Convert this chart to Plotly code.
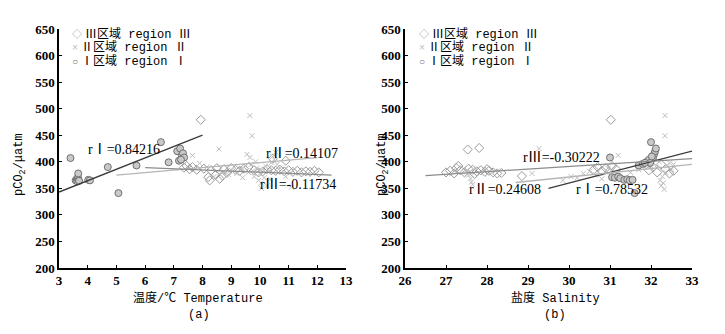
import plotly.graph_objects as go

# ---------------- data ----------------
# (a) temperature panel
temp_I = [3.40, 3.58, 3.62, 3.64, 3.66, 3.68, 3.70, 3.67, 4.02, 4.08, 4.70, 5.07, 5.70,
          6.55, 6.82, 7.12, 7.18, 7.22, 7.28, 7.32, 7.36, 7.25]
pco2_temp_I = [407, 365, 368, 363, 370, 366, 364, 378, 366, 365, 390, 341, 393,
               437, 399, 420, 402, 425, 412, 416, 408, 404]

temp_II = [7.65, 7.90, 8.15, 8.57, 8.70, 9.00, 9.20, 9.35, 9.50, 9.55, 9.60, 9.65, 9.65,
           9.70, 9.73, 9.80, 9.85, 9.90, 9.95, 10.00, 10.05, 10.10, 10.15, 10.20, 10.25,
           10.30, 10.40, 10.45, 10.50, 10.55, 10.60, 10.70, 10.90, 11.10, 8.40, 8.90,
           9.40, 9.75, 10.35, 10.05]
pco2_temp_II = [412, 397, 390, 424, 380, 384, 378, 386, 392, 414, 380, 408, 487,
                395, 449, 372, 400, 388, 365, 378, 360, 382, 370, 392, 355,
                385, 398, 410, 404, 418, 395, 388, 372, 352, 372, 376,
                370, 383, 367, 350]

temp_III = [7.35, 7.45, 7.55, 7.65, 7.80, 7.94, 8.05, 8.20, 8.30, 8.45, 8.60, 8.75, 8.85,
            9.00, 9.15, 9.30, 9.45, 9.60, 9.80, 9.95, 10.10, 10.25, 10.40, 10.55, 10.70,
            10.85, 11.00, 11.15, 11.30, 11.45, 11.60, 11.75, 11.90, 12.05, 8.25, 8.50,
            8.70, 10.45, 10.90]
pco2_temp_III = [389, 392, 386, 390, 385, 479, 387, 371, 384, 375, 368, 386, 379,
                 388, 385, 383, 387, 390, 384, 380, 382, 386, 384, 383, 385,
                 382, 384, 381, 383, 380, 382, 381, 383, 380, 365, 388,
                 374, 406, 402]

# fitted lines in (a): endpoints
fit_temp_I_x, fit_temp_I_y = [3.0, 8.0], [343, 450]
fit_temp_II_x, fit_temp_II_y = [5.0, 12.0], [375, 408]
fit_temp_III_x, fit_temp_III_y = [6.0, 12.5], [389, 375]

# (b) salinity panel
sal_I = [31.00, 31.05, 31.12, 31.20, 31.25, 31.35, 31.42, 31.48, 31.55, 31.60, 31.70,
         31.80, 31.90, 31.95, 32.00, 32.05, 32.08, 32.10, 32.12, 31.98, 31.85, 32.02]
pco2_sal_I = [408, 371, 370, 372, 369, 366, 367, 365, 366, 341, 393,
              396, 400, 404, 437, 408, 415, 420, 425, 398, 398, 410]

sal_II = [27.50, 27.55, 27.60, 27.62, 27.65, 29.10, 29.27, 29.85, 30.05, 30.20, 30.35,
          30.50, 30.65, 30.80, 30.95, 31.20, 31.70, 31.85, 32.00, 32.15, 32.22, 32.25,
          32.28, 32.30, 32.32, 32.34, 32.34, 32.36, 32.40, 32.45, 32.50, 32.55, 32.20, 31.50]
pco2_sal_II = [383, 375, 368, 362, 357, 378, 425, 365, 372, 370, 378,
               382, 375, 368, 388, 412, 385, 390, 392, 388, 365, 355,
               372, 360, 348, 487, 449, 380, 392, 398, 385, 395, 400, 380]

sal_III = [27.00, 27.10, 27.20, 27.25, 27.35, 27.45, 27.55, 27.53, 27.65, 27.75, 27.81,
           27.85, 27.95, 28.05, 28.15, 28.25, 28.35, 28.85, 30.60, 30.70, 30.80, 30.90,
           31.02, 31.05, 31.15, 31.95, 32.05, 32.15, 32.25, 32.35, 32.45, 32.55, 27.30,
           27.70, 28.00]
pco2_sal_III = [380, 383, 378, 388, 384, 380, 387, 423, 385, 382, 426,
                384, 381, 383, 380, 378, 379, 373, 385, 390, 383, 388,
                479, 392, 386, 384, 390, 380, 395, 386, 378, 383, 392,
                377, 386]

fit_sal_I_x, fit_sal_I_y = [29.5, 33.0], [350, 420]
fit_sal_II_x, fit_sal_II_y = [28.7, 33.0], [361, 395]
fit_sal_III_x, fit_sal_III_y = [26.5, 33.0], [374, 406]

y_ticks = [200, 250, 300, 350, 400, 450, 500, 550, 600, 650]
temp_ticks = list(range(3, 14))
sal_ticks = list(range(26, 34))

legend_rows = ["Ⅲ区域 region Ⅲ", "Ⅱ区域 region Ⅱ", "Ⅰ区域 region Ⅰ"]
legend_syms = ["◇", "×", "○"]
r_labels_temp = ["rⅠ=0.84216", "rⅡ=0.14107", "rⅢ=-0.11734"]
r_pos_temp = [(5.27, 423), (11.45, 416), (11.33, 358)]
r_labels_sal = ["rⅢ=-0.30222", "rⅡ=0.24608", "rⅠ=0.78532"]
r_pos_sal = [(29.82, 408), (28.44, 348), (31.06, 348)]

# ---------------- styles ----------------
C_III = "#9a9a9a"
C_II = "#bdbdbd"
C_I_FILL = "#c9c9c9"
C_I_LINE = "#707070"
L_I = "#3a3a3a"
L_II = "#b5b5b5"
L_III = "#8c8c8c"
SERIF = "Liberation Serif, Noto Sans CJK SC, serif"
MONO = "Liberation Mono, Noto Sans CJK SC, monospace"

fig = go.Figure()


def add_panel(xa, ya, xI, yI, xII, yII, xIII, yIII, fits):
    fig.add_trace(go.Scatter(x=xIII, y=yIII, mode="markers", xaxis=xa, yaxis=ya,
                             marker=dict(symbol="diamond-open", size=7, color=C_III,
                                         line=dict(width=1)), showlegend=False))
    fig.add_trace(go.Scatter(x=xII, y=yII, mode="markers", xaxis=xa, yaxis=ya,
                             marker=dict(symbol="x-thin-open", size=5, color=C_II,
                                         line=dict(width=1, color=C_II)), showlegend=False))
    fig.add_trace(go.Scatter(x=xI, y=yI, mode="markers", xaxis=xa, yaxis=ya,
                             marker=dict(symbol="circle", size=7, color=C_I_FILL,
                                         line=dict(width=1, color=C_I_LINE)), showlegend=False))
    for (fx, fy), col in zip(fits, [L_I, L_II, L_III]):
        fig.add_trace(go.Scatter(x=fx, y=fy, mode="lines", xaxis=xa, yaxis=ya,
                                 line=dict(color=col, width=1.3), showlegend=False))


add_panel("x", "y", temp_I, pco2_temp_I, temp_II, pco2_temp_II, temp_III, pco2_temp_III,
          [(fit_temp_I_x, fit_temp_I_y), (fit_temp_II_x, fit_temp_II_y),
           (fit_temp_III_x, fit_temp_III_y)])
add_panel("x2", "y2", sal_I, pco2_sal_I, sal_II, pco2_sal_II, sal_III, pco2_sal_III,
          [(fit_sal_I_x, fit_sal_I_y), (fit_sal_II_x, fit_sal_II_y),
           (fit_sal_III_x, fit_sal_III_y)])

W, H = 725, 334
axis_common = dict(showline=True, linecolor="black", linewidth=1.5, ticks="inside",
                   ticklen=3, tickcolor="black", showgrid=False, zeroline=False,
                   automargin=False,
                   tickfont=dict(family=SERIF, size=13, color="black", weight="bold"))

fig.update_layout(
    template="none",
    width=W, height=H, margin=dict(l=0, r=0, t=0, b=0, pad=0, autoexpand=False),
    paper_bgcolor="white", plot_bgcolor="white", showlegend=False,
    xaxis=dict(domain=[59 / W, 346 / W], range=[3, 13], tickvals=temp_ticks,
               anchor="y", **axis_common),
    yaxis=dict(domain=[1 - 268 / H, 1 - 29 / H], range=[200, 650], tickvals=y_ticks,
               anchor="x", **axis_common),
    xaxis2=dict(domain=[405 / W, 692 / W], range=[26, 33], tickvals=sal_ticks,
                anchor="y2", **axis_common),
    yaxis2=dict(domain=[1 - 268 / H, 1 - 29 / H], range=[200, 650], tickvals=y_ticks,
                anchor="x2", **axis_common),
)

ann = []
# legends (as text rows)
sym_cols = [C_III, C_II, C_I_LINE]
for i, (row, sym, col) in enumerate(zip(legend_rows, legend_syms, sym_cols)):
    ypos = 1 - (34 + 13.5 * i) / H
    for x0 in (70, 417):
        ann.append(dict(x=x0 / W, y=ypos, xref="paper", yref="paper", xanchor="left",
                        yanchor="middle", showarrow=False,
                        text=(f"<span style='color:{col};font-size:10px'>{sym}</span>"
                              f"<span style='font-size:5px'> </span>{row}"),
                        font=dict(family=MONO, size=12, color="black")))
# r labels
for txt, (px, py) in zip(r_labels_temp, r_pos_temp):
    ann.append(dict(x=px, y=py, xref="x", yref="y", showarrow=False, text=txt,
                    xanchor="center", yanchor="middle",
                    font=dict(family=SERIF, size=14, color="black")))
for txt, (px, py) in zip(r_labels_sal, r_pos_sal):
    ann.append(dict(x=px, y=py, xref="x2", yref="y2", showarrow=False, text=txt,
                    xanchor="center", yanchor="middle",
                    font=dict(family=SERIF, size=14, color="black")))
# axis titles
title_font = dict(family=MONO, size=12, color="black")
ann += [
    dict(x=198 / W, y=1 - 298 / H, xref="paper", yref="paper", showarrow=False,
         xanchor="center", yanchor="middle", text="温度/℃ Temperature", font=title_font),
    dict(x=199 / W, y=1 - 315 / H, xref="paper", yref="paper", showarrow=False,
         xanchor="center", yanchor="middle", text="(a)", font=title_font),
    dict(x=555 / W, y=1 - 298 / H, xref="paper", yref="paper", showarrow=False,
         xanchor="center", yanchor="middle", text="盐度 Salinity", font=title_font),
    dict(x=555 / W, y=1 - 315 / H, xref="paper", yref="paper", showarrow=False,
         xanchor="center", yanchor="middle", text="(b)", font=title_font),
    dict(x=20 / W, y=1 - 165 / H, xref="paper", yref="paper", showarrow=False,
         xanchor="center", yanchor="middle", textangle=-90,
         text="pCO<sub>2</sub>/μatm", font=title_font),
    dict(x=383 / W, y=1 - 165 / H, xref="paper", yref="paper", showarrow=False,
         xanchor="center", yanchor="middle", textangle=-90,
         text="pCO<sub>2</sub>/μatm", font=title_font),
]
fig.update_layout(annotations=ann)

fig.write_html("out.html", config={"displayModeBar": False},
               post_script="document.body.style.margin='0';document.body.style.overflow='hidden';")
